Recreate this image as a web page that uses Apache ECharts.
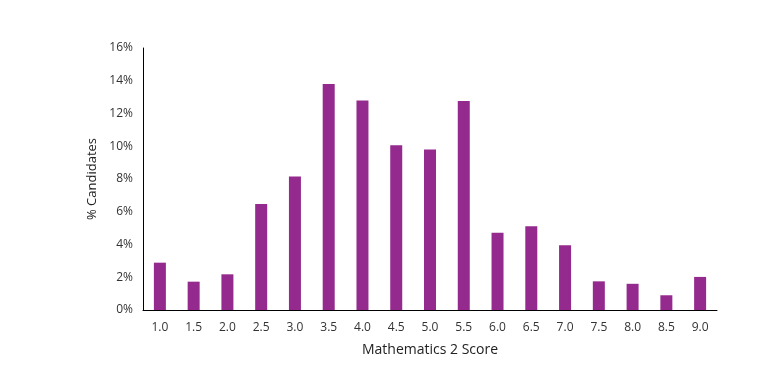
<!DOCTYPE html>
<html><head><meta charset="utf-8">
<script src="https://cdn.jsdelivr.net/npm/echarts@6/dist/echarts.min.js"></script>
<style>html,body{margin:0;padding:0;background:#fff}#c{width:781px;height:392px}</style>
</head><body><div id="c"></div>
<script>
var categories = ['1.0','1.5','2.0','2.5','3.0','3.5','4.0','4.5','5.0','5.5','6.0','6.5','7.0','7.5','8.0','8.5','9.0'];
var values = [2.89,1.73,2.18,6.47,8.15,13.8,12.8,10.06,9.8,12.76,4.72,5.12,3.95,1.75,1.6,0.9,2.02];
var yTicks = [0,2,4,6,8,10,12,14,16];
var chart = echarts.init(document.getElementById('c'));
var font = 'Open Sans, Lato, sans-serif';
chart.setOption({
  animation:false,
  grid:{left:143,right:64,top:48,bottom:82},
  xAxis:{type:'category',data:categories,
    name:'Mathematics 2 Score',nameLocation:'middle',nameGap:33,
    nameTextStyle:{color:'#222',fontSize:14,fontFamily:font},
    axisLine:{lineStyle:{color:'#000',width:1}},axisTick:{show:false},
    axisLabel:{color:'#333',fontSize:12,fontFamily:font,margin:12}},
  yAxis:{type:'value',min:yTicks[0],max:yTicks[yTicks.length-1],interval:2,
    name:'% Candidates',nameLocation:'middle',nameGap:44,
    nameTextStyle:{color:'#222',fontSize:13,fontFamily:font},
    axisLine:{show:true,lineStyle:{color:'#000',width:1}},axisTick:{show:false},
    splitLine:{show:false},
    axisLabel:{color:'#333',fontSize:12,fontFamily:font,formatter:'{value}%',margin:10}},
  series:[{type:'bar',data:values,barWidth:12,itemStyle:{color:'#952A8E'}}]
});
</script></body></html>
